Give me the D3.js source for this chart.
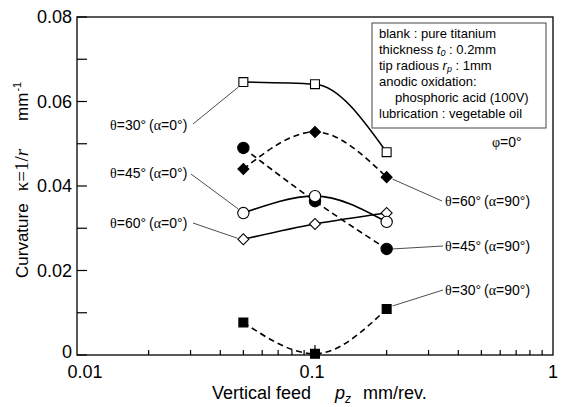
<!DOCTYPE html>
<html>
<head>
<meta charset="utf-8">
<script src="https://cdn.jsdelivr.net/npm/d3@7"></script>
<style>
  body { margin: 0; background: #fff; }
  svg { display: block; font-family: "Liberation Sans", Arial, sans-serif; }
</style>
</head>
<body>
<svg width="563" height="407"></svg>
<script>
// data
const feeds = [0.05, 0.1, 0.2];
const th30a0 = [0.0646, 0.0641, 0.048];
const th45a0 = [0.0336, 0.0376, 0.0315];
const th60a0 = [0.0274, 0.031, 0.0336];
const th30a90 = [0.0077, 0.0003, 0.0109];
const th45a90 = [0.049, 0.0364, 0.0251];
const th60a90 = [0.044, 0.0528, 0.0421];
const yTicks = [0, 0.02, 0.04, 0.06, 0.08];
const xTicks = [0.01, 0.1, 1];

const svg = d3.select('svg');
const plotL = 77, plotR = 553, plotT = 17, plotB = 355;

const x = d3.scaleLog().domain([0.01, 1]).range([plotL, plotR]);
const y = d3.scaleLinear().domain([0, 0.08]).range([plotB, plotT]);

// frame
svg.append('rect')
    .attr('x', plotL).attr('y', plotT)
    .attr('width', plotR - plotL).attr('height', plotB - plotT)
    .attr('fill', 'none').attr('stroke', '#000').attr('stroke-width', 1.3);

// y ticks, inward (majors and minors same length)
const yMinor = d3.range(0, 0.0801, 0.01);
svg.append('g').selectAll('line').data(yMinor).join('line')
    .attr('x1', plotL).attr('x2', plotL + 10)
    .attr('y1', d => y(d)).attr('y2', d => y(d))
    .attr('stroke', '#000').attr('stroke-width', 1.2);

svg.append('g').selectAll('text').data(yTicks).join('text')
    .attr('x', 72).attr('y', d => y(d) + (d === 0 ? 3 : 6))
    .attr('text-anchor', 'end')
    .attr('font-size', 18)
    .text(d => d === 0 ? '0' : d3.format('.2f')(d));

// x ticks, log minor ticks inward
const xMinor = [];
[0.01, 0.1].forEach(dec => d3.range(2, 10).forEach(k => xMinor.push(dec * k)));
svg.append('g').selectAll('line').data(xMinor).join('line')
    .attr('x1', d => x(d)).attr('x2', d => x(d))
    .attr('y1', plotB).attr('y2', plotB - 5)
    .attr('stroke', '#000').attr('stroke-width', 1.2);
svg.append('line')
    .attr('x1', x(0.1)).attr('x2', x(0.1))
    .attr('y1', plotB).attr('y2', plotB - 10)
    .attr('stroke', '#000').attr('stroke-width', 1.2);

svg.append('g').selectAll('text').data(xTicks).join('text')
    .attr('x', (d, i) => x(d) + (i === 0 ? 8 : (i === 1 ? -3 : 0)))
    .attr('y', 378)
    .attr('text-anchor', 'middle')
    .attr('font-size', 18)
    .text(d => String(d));

// axis titles
const xt = svg.append('text').attr('x', 212).attr('y', 399).attr('font-size', 18);
xt.append('tspan').text('Vertical feed');
xt.append('tspan').attr('dx', 24).attr('font-style', 'italic').text('p');
xt.append('tspan').attr('font-style', 'italic').attr('font-size', 12).attr('dy', 4).text('z');
xt.append('tspan').attr('dx', 12).attr('dy', -4).text('mm/rev.');

const yt = svg.append('text')
    .attr('transform', 'translate(28,278) rotate(-90)')
    .attr('font-size', 17);
yt.append('tspan').text('Curvature');
yt.append('tspan').attr('dx', 12).attr('font-family', '"Liberation Serif", serif').attr('font-size', 19).text('κ=1/');
yt.append('tspan').attr('font-style', 'italic').attr('font-family', '"Liberation Serif", serif').attr('font-size', 19).text('r');
yt.append('tspan').attr('dx', 28).text('mm');
yt.append('tspan').attr('font-size', 11).attr('dx', 1).attr('dy', -7).text('-1');

// series
const series = [
    { vals: th30a90, dash: '6,4', shape: 'square', fill: '#000' },
    { vals: th45a90, dash: '6,4', shape: 'circle', fill: '#000' },
    { vals: th60a90, dash: '6,4', shape: 'diamond', fill: '#000' },
    { vals: th60a0, dash: null, shape: 'diamond', fill: '#fff' },
    { vals: th45a0, dash: null, shape: 'circle', fill: '#fff' },
    { vals: th30a0, dash: null, shape: 'square', fill: '#fff' }
];

const line = d3.line()
    .x(d => x(d[0])).y(d => y(d[1]))
    .curve(d3.curveMonotoneX);

const symbols = {
    square: d3.symbol().type(d3.symbolSquare).size(80),
    circle: d3.symbol().type(d3.symbolCircle).size(100),
    diamond: d3.symbol().type(d3.symbolSquare).size(60)
};

series.forEach(s => {
    const pts = feeds.map((f, i) => [f, s.vals[i]]);
    svg.append('path')
        .attr('d', line(pts))
        .attr('fill', 'none')
        .attr('stroke', '#000')
        .attr('stroke-width', 1.6)
        .attr('stroke-dasharray', s.dash);
});

series.forEach(s => {
    const pts = feeds.map((f, i) => [f, s.vals[i]]);
    svg.append('g').selectAll('path').data(pts).join('path')
        .attr('d', symbols[s.shape]())
        .attr('transform', d => `translate(${x(d[0])},${y(d[1])})` + (s.shape === 'diamond' ? ' rotate(45)' : ''))
        .attr('fill', s.fill)
        .attr('stroke', '#000')
        .attr('stroke-width', 1.1);
});

// callout labels
const labels = [
    { theta: '30', alpha: '0', tx: 110, ty: 130, lx: 193, ly: 124, px: 0.05, py: th30a0[0], ox: -5, oy: 5 },
    { theta: '45', alpha: '0', tx: 110, ty: 178, lx: 191, ly: 174, px: 0.05, py: th45a0[0], ox: -5, oy: -4 },
    { theta: '60', alpha: '0', tx: 110, ty: 228, lx: 193, ly: 223, px: 0.05, py: th60a0[0], ox: -6, oy: -1 },
    { theta: '60', alpha: '90', tx: 445, ty: 206, lx: 442, ly: 201, px: 0.2, py: th60a90[2], ox: 6, oy: 2 },
    { theta: '45', alpha: '90', tx: 445, ty: 251, lx: 443, ly: 246, px: 0.2, py: th45a90[2], ox: 6, oy: 0 },
    { theta: '30', alpha: '90', tx: 445, ty: 295, lx: 443, ly: 290, px: 0.2, py: th30a90[2], ox: 6, oy: -3 }
];

labels.forEach(l => {
    svg.append('line')
        .attr('x1', l.lx).attr('y1', l.ly)
        .attr('x2', x(l.px) + l.ox).attr('y2', y(l.py) + l.oy)
        .attr('stroke', '#000').attr('stroke-width', 0.7);
    const t = svg.append('text').attr('x', l.tx).attr('y', l.ty).attr('font-size', 14);
    t.append('tspan').attr('font-family', '"Liberation Serif", serif').text('θ');
    t.append('tspan').text('=' + l.theta + '°');
    t.append('tspan').attr('dx', 3).text('(');
    t.append('tspan').attr('font-family', '"Liberation Serif", serif').text('α');
    t.append('tspan').text('=' + l.alpha + '°)');
});

// condition box
svg.append('rect')
    .attr('x', 372).attr('y', 23).attr('width', 174).attr('height', 105)
    .attr('fill', '#fff').attr('stroke', '#444').attr('stroke-width', 1);

const boxLines = [
    [{ t: 'blank : pure titanium' }],
    [{ t: 'thickness ' }, { t: 't', it: true }, { t: '0', it: true, sub: true }, { t: ' : 0.2mm', up: true }],
    [{ t: 'tip radious ' }, { t: 'r', it: true }, { t: 'p', it: true, sub: true }, { t: ' : 1mm', up: true }],
    [{ t: 'anodic oxidation:' }],
    [{ t: 'phosphoric acid (100V)', indent: 16 }],
    [{ t: 'lubrication : vegetable oil' }]
];
boxLines.forEach((parts, i) => {
    const t = svg.append('text')
        .attr('x', 379 + (parts[0].indent || 0))
        .attr('y', 38 + i * 16)
        .attr('font-size', 13);
    parts.forEach(p => {
        const s = t.append('tspan').text(p.t);
        if (p.it) s.attr('font-style', 'italic');
        if (p.sub) s.attr('font-size', 9).attr('dy', 2);
        if (p.up) s.attr('dy', -2);
    });
});

const phi = svg.append('text').attr('x', 492).attr('y', 147).attr('font-size', 14);
phi.append('tspan').attr('font-family', '"Liberation Serif", serif').text('φ');
phi.append('tspan').text('=0°');
</script>
</body>
</html>
